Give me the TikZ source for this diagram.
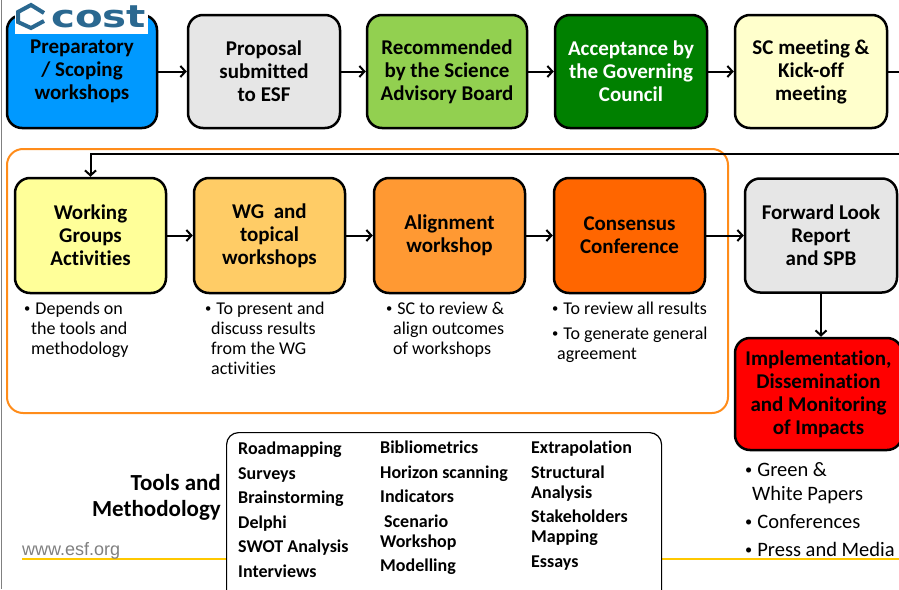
\documentclass[tikz,border=0pt]{standalone}
\usepackage{fontspec}
\setmainfont{Carlito}[Ligatures=NoCommon]
\newfontfamily\webfont{Liberation Sans}
\newfontfamily\logofont{DejaVu Sans}
\usetikzlibrary{arrows.meta}

\definecolor{prepblue}{RGB}{0,153,255}
\definecolor{boxgray}{RGB}{230,230,230}
\definecolor{sabgreen}{RGB}{146,208,80}
\definecolor{gcgreen}{RGB}{0,128,0}
\definecolor{kickyellow}{RGB}{255,255,204}
\definecolor{wgyellow}{RGB}{255,255,153}
\definecolor{topicorange}{RGB}{255,204,102}
\definecolor{alignorange}{RGB}{255,153,51}
\definecolor{consorange}{RGB}{255,102,0}
\definecolor{implred}{RGB}{255,0,0}
\definecolor{frameorange}{RGB}{255,140,26}
\definecolor{ruleyellow}{RGB}{255,200,0}
\definecolor{webgray}{RGB}{128,128,128}
\definecolor{logoblue}{RGB}{42,104,144}

\newcommand{\dotmark}{\raisebox{0.1em}{\scalebox{0.7}{\textbullet}}\hspace{5pt}}

\begin{document}
\begin{tikzpicture}[x=1pt,y=-1pt,
    stepbox/.style={draw=black, line width=2.5pt, rounded corners=15pt, align=center,
      inner sep=2pt, font=\fontsize{21}{23}\selectfont\bfseries},
    flow/.style={line width=2pt, -{Straight Barb[length=5pt,width=11pt]}},
    note/.style={anchor=north west, align=left, inner sep=0pt, font=\fontsize{18}{20}\selectfont},
    toollist/.style={anchor=north west, align=left, inner sep=0pt, font=\fontsize{18}{20}\selectfont\bfseries}]

    \useasboundingbox (0,0) rectangle (899,589);
    \clip (0,0) rectangle (899,589);

    % Draw the slide frame and the yellow rule
    \draw[webgray, line width=1.5pt] (1.5,0) -- (1.5,589);
    \draw[ruleyellow, line width=2pt] (22,559) -- (899,559);
    \node[anchor=base west, inner sep=0pt, text=webgray, font=\webfont\fontsize{18}{20}\selectfont] (web) at (22,555) {www.esf.org};

    % Draw the top row
    \node[stepbox, fill=prepblue, minimum width=150pt, minimum height=113pt] (prep) at (82,71.5) {Preparatory\\/ Scoping\\workshops};
    \node[stepbox, fill=boxgray, minimum width=152pt, minimum height=113pt] (prop) at (264,71.5) {Proposal\\submitted\\to ESF};
    \node[stepbox, fill=sabgreen, minimum width=160pt, minimum height=113pt] (sab) at (447,71.5) {Recommended\\by the Science\\Advisory Board};
    \node[stepbox, fill=gcgreen, text=white, minimum width=152pt, minimum height=113pt] (gc) at (631,71.5) {Acceptance by\\the Governing\\Council};
    \node[stepbox, fill=kickyellow, minimum width=152pt, minimum height=113pt] (kick) at (811,71.5) {SC meeting \&\\Kick-off\\meeting};

    % Draw the logo
    \fill[white] (15,0) rectangle (148,34);
    \draw[logoblue, line width=4pt, line join=miter] (44,13) -- (31,5) -- (18,12) -- (18,22) -- (31,28) -- (44,21);
    \node[anchor=base west, text=logoblue, inner sep=0pt, font=\logofont\bfseries\fontsize{31}{31}\selectfont] (logo) at (51,27.5) {\scalebox{1.3}[1]{cost}};

    \draw[flow] (prep) -- (prop);
    \draw[flow] (prop) -- (sab);
    \draw[flow] (sab) -- (gc);
    \draw[flow] (gc) -- (kick);

    % Draw the frame round the forward look work
    \draw[frameorange, line width=2pt, rounded corners=16pt] (7,149) rectangle (728,413);

    % Draw the return line
    \coordinate (backout) at (900,71.5);
    \coordinate (backin) at (900,154);
    \draw[line width=2pt] (kick) -- (backout);

    % Draw the middle row
    \node[stepbox, fill=wgyellow, minimum width=151pt, minimum height=115pt] (wga) at (90.5,235.5) {Working\\Groups\\Activities};
    \node[stepbox, fill=topicorange, minimum width=151pt, minimum height=115pt] (wgt) at (269.5,235.5) {WG\ \ and\\topical\\workshops};
    \node[stepbox, fill=alignorange, minimum width=151pt, minimum height=115pt] (align) at (449.5,235.5) {Alignment\\workshop};
    \node[stepbox, fill=consorange, minimum width=151pt, minimum height=115pt] (cons) at (629.5,235.5) {Consensus\\Conference};
    \node[stepbox, fill=boxgray, minimum width=152pt, minimum height=114pt] (fwd) at (821,235.5) {Forward Look\\Report\\and SPB};
    \node[stepbox, fill=implred, minimum width=167pt, minimum height=112pt] (impl) at (818.5,394) {Implementation,\\Dissemination\\and Monitoring\\of Impacts};

    \draw[flow] (backin) -| (wga.north);
    \draw[flow] (wga) -- (wgt);
    \draw[flow] (wgt) -- (align);
    \draw[flow] (align) -- (cons);
    \draw[flow] (cons) -- (fwd);
    \draw[flow] (fwd.south) -- (fwd.south |- impl.north);

    % Draw the notes under the boxes
    \node[note] (wganote) at (24,302) {\dotmark Depends on\\\hspace*{7pt}the tools and\\\hspace*{7pt}methodology};
    \node[note] (wgtnote) at (205,302) {\dotmark To present and\\\hspace*{6pt}discuss results\\\hspace*{6pt}from the WG\\\hspace*{6pt}activities};
    \node[note] (alignnote) at (386,302) {\dotmark SC to review \&\\\hspace*{7pt}align outcomes\\\hspace*{7pt}of workshops};
    \node[note] (consnote) at (552,302) {\dotmark To review all results\\[5pt]\dotmark To generate general\\\hspace*{5pt}agreement};
    \node[note, font=\fontsize{20.5}{24}\selectfont] (implnote) at (745,462) {\dotmark Green \&\\\hspace*{7pt}White Papers\\[4pt]\dotmark Conferences\\[4pt]\dotmark Press and Media};

    % Draw the tools box
    \node[anchor=east, align=right, inner sep=0pt, font=\fontsize{23}{26}\selectfont\bfseries] (toolslabel) at (221,497) {Tools and\\Methodology};
    \node[draw=black, fill=white, line width=1.2pt, rounded corners=12pt, anchor=north west,
      minimum width=435pt, minimum height=175pt] (toolbox) at (226,432) {};
    \node[toollist, font=\fontsize{18}{24.5}\selectfont\bfseries] (toolsa) at (238,442) {Roadmapping\\Surveys\\Brainstorming\\Delphi\\SWOT Analysis\\Interviews};
    \node[toollist] (toolsb) at (380,441) {Bibliometrics\\[4.5pt]Horizon scanning\\[4.5pt]Indicators\\[4.5pt]\hspace*{4pt}Scenario\\Workshop\\[4.5pt]Modelling};
    \node[toollist] (toolsc) at (531,441) {Extrapolation\\[4.5pt]Structural\\Analysis\\[4.5pt]Stakeholders\\Mapping\\[4.5pt]Essays};
\end{tikzpicture}
\end{document}
